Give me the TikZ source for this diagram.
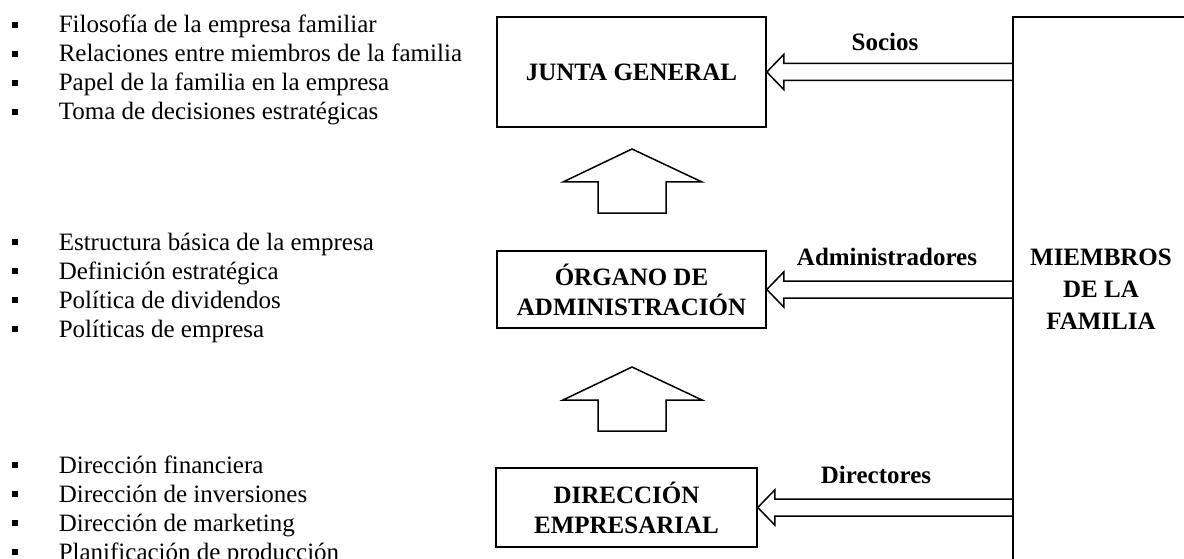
\documentclass[tikz,border=0pt]{standalone}
\usepackage{fontspec}
\setmainfont{Liberation Serif}
\usetikzlibrary{calc}
\begin{document}
\begin{tikzpicture}[x=1pt,y=-1pt,line width=1.5pt,line join=miter,
  box/.style={draw,line width=1.5pt,font=\fontsize{25}{30}\selectfont\bfseries,align=center,inner sep=0pt},
  item/.style={anchor=base west,inner sep=0pt,font=\fontsize{25}{29}\selectfont},
  lab/.style={anchor=base,inner sep=0pt,font=\fontsize{25}{29}\selectfont\bfseries},
  bul/.style={fill,draw=none,minimum size=6.5pt,inner sep=0pt},
  fam/.style={align=center,inner sep=0pt,font=\fontsize{25}{32}\selectfont\bfseries}]
\useasboundingbox (0,0) rectangle (1184,559);
\clip (0,0) rectangle (1184,559);

% boxes
\node[box,minimum width=269pt,minimum height=110pt] (junta) at (631.5,72) {JUNTA GENERAL};
\node[box,minimum width=269pt,minimum height=77pt] (organo) at (631.5,289.5) {ÓRGANO DE\\ADMINISTRACIÓN};
\node[box,minimum width=261pt,minimum height=79pt] (direccion) at (626.5,507.5) {DIRECCIÓN\\EMPRESARIAL};

% family box
\coordinate (famtop) at (1013,17);
\coordinate (fambot) at (1013,600);
\coordinate (famright) at (1220,17);
\draw (fambot) -- (famtop) -- (famright);
\node[fam] (famtext) at (1101,289) {MIEMBROS\\DE LA\\FAMILIA};

% labels
\node[lab] (socios) at (885,51) {Socios};
\node[lab] (admin) at (887,265) {Administradores};
\node[lab] (dirs) at (876,483) {Directores};

% hollow arrows from family to boxes
\foreach \b in {junta,organo,direccion}{
  \draw (\b.east) -- ++(17,-17.5) -- ++(0,9) coordinate (\b-up) -- (\b-up -| famtop);
  \draw (\b.east) -- ++(17,17.5) -- ++(0,-9) coordinate (\b-dn) -- (\b-dn -| famtop);
}

% block up arrows
\draw (598,213) -- (598,182) -- (563,182) -- (632,149) -- (702,182) -- (666,182) -- (666,213) -- cycle;
\draw (598,431) -- (598,400) -- (563,400) -- (632,367) -- (702,400) -- (666,400) -- (666,431) -- cycle;

% bullet lists
\node[bul] (p1) at (15,25) {}; \node[item] (t1) at (58,33) {Filosofía de la empresa familiar};
\node[bul] (p2) at (15,54) {}; \node[item] (t2) at (58,62) {Relaciones entre miembros de la familia};
\node[bul] (p3) at (15,83) {}; \node[item] (t3) at (58,91) {Papel de la familia en la empresa};
\node[bul] (p4) at (15,112) {}; \node[item] (t4) at (58,120) {Toma de decisiones estratégicas};

\node[bul] (p5) at (15,242) {}; \node[item] (t5) at (58,250) {Estructura básica de la empresa};
\node[bul] (p6) at (15,271) {}; \node[item] (t6) at (58,279) {Definición estratégica};
\node[bul] (p7) at (15,300) {}; \node[item] (t7) at (58,308) {Política de dividendos};
\node[bul] (p8) at (15,329) {}; \node[item] (t8) at (58,337) {Políticas de empresa};

\node[bul] (p9) at (15,465) {}; \node[item] (t9) at (58,473) {Dirección financiera};
\node[bul] (p10) at (15,494) {}; \node[item] (t10) at (58,502) {Dirección de inversiones};
\node[bul] (p11) at (15,523) {}; \node[item] (t11) at (58,531) {Dirección de marketing};
\node[bul] (p12) at (15,552) {}; \node[item] (t12) at (58,560) {Planificación de producción};
\end{tikzpicture}
\end{document}
